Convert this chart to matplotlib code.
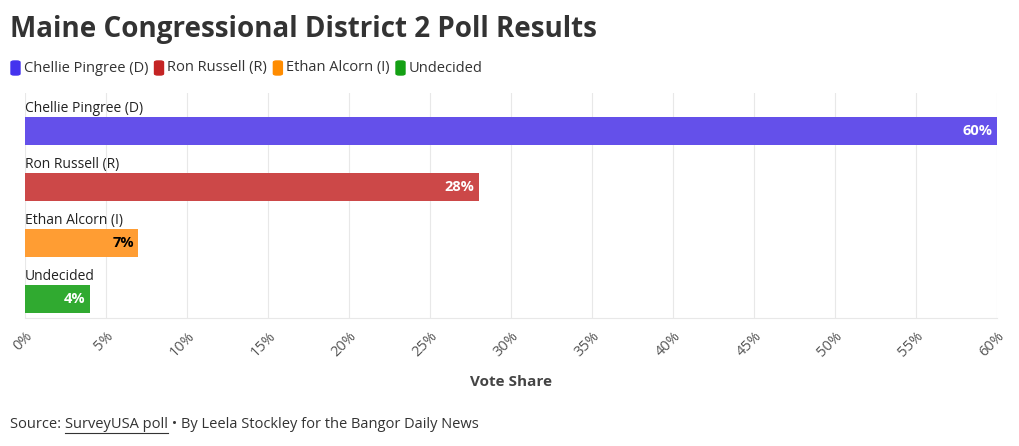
import matplotlib
matplotlib.use("Agg")
import matplotlib.pyplot as plt
from matplotlib.ticker import FuncFormatter, MultipleLocator

candidates = ["Chellie Pingree (D)", "Ron Russell (R)", "Ethan Alcorn (I)", "Undecided"]
shares = [60, 28, 7, 4]
bar_colors = ["#6450ea", "#cc4848", "#ff9d33", "#30aa30"]
legend_colors = ["#4433ee", "#c42424", "#ff8c00", "#14a014"]
label_colors = ["white", "white", "black", "white"]

plt.rcParams['font.family'] = ['Open Sans', 'DejaVu Sans']

fig = plt.figure(figsize=(10.2, 4.46), dpi=100)
ax = fig.add_axes([25/1020, 1 - 318/446, (997 - 25)/1020, 225/446])

ypos = list(range(len(candidates)))
ax.barh(ypos, shares, height=0.5, color=bar_colors, zorder=2)
ax.set_xlim(0, 60)
ax.set_ylim(3 + 19/56, -38/56)

for y, name, v, c in zip(ypos, candidates, shares, label_colors):
    ax.text(0, y - 0.41, name, ha="left", va="center", fontsize=10, color="#222222")
    ax.text(v - 0.25, y, f"{v}%", ha="right", va="center", fontsize=10.5,
            fontweight="bold", color=c, zorder=3)

ax.xaxis.set_major_locator(MultipleLocator(5))
ax.xaxis.set_major_formatter(FuncFormatter(lambda x, p: f"{x:.0f}%"))
ax.grid(axis="x", color="#e8e8e8", linewidth=0.8, zorder=0)
ax.set_yticks([])
for s in ["top", "right", "left"]:
    ax.spines[s].set_visible(False)
ax.spines["bottom"].set_color("#e8e8e8")
ax.tick_params(axis="x", length=0, pad=8, labelsize=10.5, labelcolor="#555555")
for lab in ax.get_xticklabels():
    lab.set_rotation(45)
    lab.set_ha("right")
    lab.set_va("top")
    lab.set_rotation_mode("anchor")

fig.text(511/1020, 1 - 382/446, "Vote Share", ha="center", va="center",
         fontsize=11, fontweight="bold", color="#444444")

fig.text(10/1020, 1 - 29/446, "Maine Congressional District 2 Poll Results",
         ha="left", va="center", fontsize=20, fontweight="bold", color="#333333")

# legend row
fig.canvas.draw()
r = fig.canvas.get_renderer()
x = 11
for name, c in zip(candidates, legend_colors):
    fig.patches.append(matplotlib.patches.FancyBboxPatch(
        (x/1020, 1 - 75/446), 9/1020, 14/446, boxstyle="round,pad=0,rounding_size=0.003",
        transform=fig.transFigure, color=c, figure=fig))
    t = fig.text((x + 13)/1020, 1 - 68/446, name, ha="left", va="center",
                 fontsize=10.5, color="#333333")
    x += 13 + t.get_window_extent(r).width + 6

# source line
x = 10
ys = 1 - 425/446
parts = [("Source: ", False), ("SurveyUSA poll", True),
         (" \u2022 By Leela Stockley for the Bangor Daily News", False)]
for s, und in parts:
    t = fig.text(x/1020, ys, s, ha="left", va="center", fontsize=10.5, color="#333333")
    w = t.get_window_extent(r).width
    if und:
        fig.lines.append(matplotlib.lines.Line2D([x/1020, (x + w)/1020], [ys - 8/446] * 2,
                         transform=fig.transFigure, color="#333333", linewidth=0.8))
    x += w

fig.savefig("out.png", dpi=100)
